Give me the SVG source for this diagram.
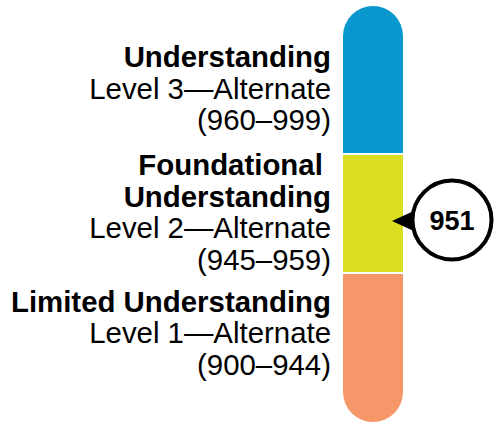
<svg xmlns="http://www.w3.org/2000/svg" width="495" height="423" viewBox="0 0 495 423">
<style>
text{font-family:"Liberation Sans",Arial,sans-serif;font-size:29.4px;fill:#000;text-anchor:end}
.b{font-weight:bold}
</style>
<rect width="495" height="423" fill="#fff"/>
<g id="bar">
<path d="M343,153 V36 A30,30 0 0 1 403,36 V153 Z" fill="#0898CD"/>
<rect x="343" y="155" width="60" height="117" fill="#DCDE21"/>
<path d="M343,274 H403 V392 A30,30 0 0 1 343,392 Z" fill="#F6976A"/>
</g>
<g id="level3">
<text class="b" x="331" y="67">Understanding</text>
<text x="331" y="98.5">Level 3—Alternate</text>
<text x="331" y="130">(960–999)</text>
</g>
<g id="level2">
<text class="b" x="331" y="175" xml:space="preserve">Foundational </text>
<text class="b" x="331" y="206.5">Understanding</text>
<text x="331" y="238">Level 2—Alternate</text>
<text x="331" y="270">(945–959)</text>
</g>
<g id="level1">
<text class="b" x="331" y="311.5">Limited Understanding</text>
<text x="331" y="343">Level 1—Alternate</text>
<text x="331" y="374.5">(900–944)</text>
</g>
<g id="marker">
<polygon points="392,221 418,209 418,233" fill="#000"/>
<circle cx="452" cy="220" r="39.5" fill="#fff" stroke="#000" stroke-width="4"/>
<text class="b" x="452" y="230" style="text-anchor:middle;font-size:27px">951</text>
</g>
</svg>
